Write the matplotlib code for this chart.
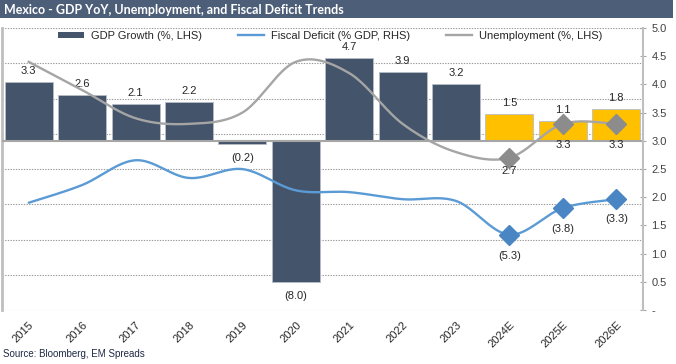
import matplotlib
matplotlib.use('Agg')
import matplotlib.pyplot as plt
from matplotlib.patches import Rectangle, Patch
from matplotlib.lines import Line2D
import numpy as np

plt.rcParams['font.family'] = ['Liberation Sans', 'DejaVu Sans']

# data
years = ['2015', '2016', '2017', '2018', '2019', '2020', '2021', '2022', '2023',
         '2024E', '2025E', '2026E']
gdp_growth = [3.3, 2.6, 2.1, 2.2, -0.2, -8.0, 4.7, 3.9, 3.2, 1.5, 1.1, 1.8]
fiscal_deficit = [-3.5, -2.5, -1.1, -2.1, -1.6, -2.8, -2.9, -3.3, -3.4, -5.3, -3.8, -3.3]
unemployment = [4.4, 3.9, 3.4, 3.3, 3.5, 4.4, 4.2, 3.3, 2.8, 2.7, 3.3, 3.3]
n_actual = 9  # first estimate year index

DARK = '#44546A'
GOLD = '#FFC000'
BLUE = '#5B9BD5'
BLUE_MK = '#4A86C4'
GRAY = '#A5A5A5'
GRAY_MK = '#8C8C8C'
TXT = '#262626'


def smooth(xs, ys, n=24):
    # excel-like smoothed line (catmull-rom as bezier)
    pts = np.column_stack([xs, ys]).astype(float)
    out = []
    for i in range(len(pts) - 1):
        p0 = pts[i - 1] if i > 0 else pts[i]
        p1, p2 = pts[i], pts[i + 1]
        p3 = pts[i + 2] if i + 2 < len(pts) else pts[i + 1]
        c1 = p1 + (p2 - p0) / 6
        c2 = p2 - (p3 - p1) / 6
        t = np.linspace(0, 1, n)[:, None]
        seg = ((1 - t) ** 3) * p1 + 3 * ((1 - t) ** 2) * t * c1 + 3 * (1 - t) * t ** 2 * c2 + t ** 3 * p2
        out.append(seg if i == 0 else seg[1:])
    out = np.vstack(out)
    return out[:, 0], out[:, 1]


def fmt(v):
    return f'({abs(v):.1f})' if v < 0 else f'{v:.1f}'


fig = plt.figure(figsize=(6.76, 3.64), dpi=100)
W, H = 676, 364

# title bar
fig.patches.append(Rectangle((0, 1 - 18 / H), 673 / W, 18 / H, transform=fig.transFigure,
                             facecolor='#4D5E78', edgecolor='none', zorder=0))
fig.text(4 / W, 1 - 9.5 / H, 'Mexico - GDP YoY, Unemployment, and Fiscal Deficit Trends',
         color='white', fontsize=9, fontweight='bold', family='Lato', va='center', ha='left')

ax = fig.add_axes([2 / W, 54 / H, 641 / W, 282 / H])
ax2 = ax.twinx()

# left (hidden) scale: zero aligned with 3.0 on the right axis
span = 282 / 17.7
lo, hi = -0.6 * span, 0.4 * span
ax.set_ylim(lo, hi)
ax.set_xlim(-0.5, len(years) - 0.5)
ax.set_yticks(np.linspace(lo, hi, 9))
ax.tick_params(axis='y', length=0, labelleft=False)
ax.grid(axis='y', color='#9A9A9A', linestyle=(0, (1.2, 1.2)), linewidth=0.8)
ax.set_axisbelow(True)

x = np.arange(len(years))
colors = [DARK if i < n_actual else GOLD for i in range(len(years))]
ax.bar(x, gdp_growth, width=0.9, color=colors, edgecolor='#B8BEC8', linewidth=0.6, zorder=2)
ax.axhline(0, color='#A6A6A6', linewidth=1.5, zorder=3)

for xi, v in zip(x, gdp_growth):
    off = 11 if v >= 0 else -14
    ax.annotate(fmt(v), (xi, v), xytext=(0, off * 0.72), textcoords='offset points',
                ha='center', va='center', fontsize=8, color=TXT, zorder=6)

# fiscal deficit line (same scale as gdp)
sx, sy = smooth(x, fiscal_deficit)
ax.plot(sx, sy, color=BLUE, linewidth=1.7, zorder=4, solid_capstyle='round')
ax.plot(x[n_actual:], fiscal_deficit[n_actual:], linestyle='none', marker='D', markersize=10,
        color=BLUE_MK, markeredgecolor=BLUE_MK, zorder=5)
for xi, v, off in zip(x[n_actual:], fiscal_deficit[n_actual:], [21, 21, 20]):
    ax.annotate(fmt(v), (xi, v), xytext=(0, -off * 0.72), textcoords='offset points',
                ha='center', va='center', fontsize=8, color=TXT, zorder=6)

# unemployment on right axis
ax2.set_ylim(0, 5)
ux, uy = smooth(x, unemployment)
ax2.plot(ux, uy, color=GRAY, linewidth=1.7, zorder=4)
ax2.plot(x[n_actual:], unemployment[n_actual:], linestyle='none', marker='D', markersize=10,
         color=GRAY_MK, markeredgecolor=GRAY_MK, zorder=5)
for xi, v, off in zip(x[n_actual:], unemployment[n_actual:], [13, 21, 21]):
    ax2.annotate(fmt(v), (xi, v), xytext=(0, -off * 0.72), textcoords='offset points',
                 ha='center', va='center', fontsize=8, color=TXT, zorder=6)

rticks = np.arange(0, 5.01, 0.5)
ax2.set_yticks(rticks)
ax2.set_yticklabels(['-' if t == 0 else f'{t:.1f}' for t in rticks])
ax2.tick_params(axis='y', direction='inout', length=4, width=0.8, colors='#A6A6A6',
                labelcolor='#404040', labelsize=8, pad=4)

for a in (ax, ax2):
    a.spines['top'].set_visible(False)
    a.spines['bottom'].set_visible(False)
ax2.spines['left'].set_visible(False)
ax.spines['right'].set_visible(False)
ax.spines['left'].set_color('#BFBFBF')
ax.spines['left'].set_linewidth(2)
ax2.spines['right'].set_color('#BFBFBF')
ax2.spines['right'].set_linewidth(1.5)

ax.set_xticks(x)
ax.set_xticklabels(years, rotation=45, ha='right', va='top', rotation_mode='anchor',
                   fontsize=8, color=TXT)
ax.tick_params(axis='x', length=0, pad=7)

handles = [Patch(facecolor=DARK, edgecolor='none'),
           Line2D([], [], color=BLUE, linewidth=1.7),
           Line2D([], [], color=GRAY, linewidth=1.7)]
labels = ['GDP Growth (%, LHS)', 'Fiscal Deficit (% GDP, RHS)', 'Unemployment (%, LHS)']
fig.legend(handles, labels, loc='center', bbox_to_anchor=(330 / W, 1 - 36 / H), ncol=3,
           frameon=False, fontsize=8, handlelength=2.4, handleheight=0.5, columnspacing=3.2,
           handletextpad=0.6, labelcolor=TXT)

fig.text(3 / W, 1 - 354 / H, 'Source: Bloomberg, EM Spreads', fontsize=7, color='#1F2A44',
         va='center', ha='left')

fig.savefig('out.png', dpi=100)
plt.close(fig)
